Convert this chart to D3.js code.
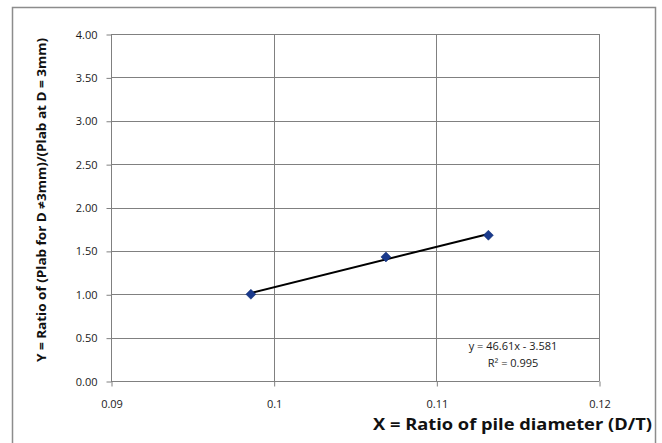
<!DOCTYPE html>
<html><head><meta charset="utf-8">
<script src="https://cdn.jsdelivr.net/npm/d3@7"></script>
<style>html,body{margin:0;padding:0;background:#fff;}svg{display:block;}</style>
</head><body>
<svg id="c" width="662" height="443"></svg>
<script>
const xValues = [0.0986, 0.1069, 0.1132];
const yValues = [1.00, 1.43, 1.68];
const xTicks = [0.09, 0.10, 0.11, 0.12];
const xTickLabels = ["0.09", "0.1", "0.11", "0.12"];
const yTicks = [0, 0.5, 1, 1.5, 2, 2.5, 3, 3.5, 4];
const slope = 46.61, intercept = -3.581;
const eqLines = ["y = 46.61x - 3.581", "R² = 0.995"];
const xTitle = "X = Ratio of pile diameter (D/T)";
const yTitle = "Y = Ratio of (Plab for D ≠3mm)/(Plab at D = 3mm)";

const svg = d3.select("#c");
const font = "'Open Sans', 'Liberation Sans', sans-serif";
const m = {l:111, r:599, t:34, b:381};
const x = d3.scaleLinear().domain([0.09, 0.12]).range([m.l, m.r]);
const y = d3.scaleLinear().domain([0, 4]).range([m.b, m.t]);

// outer chart border
svg.append("rect").attr("x",12.5).attr("y",7.5).attr("width",643).attr("height",450)
  .attr("fill","#fff").attr("stroke","#8c8c8c").attr("stroke-width",1.5);

// gridlines
const grid = svg.append("g");
grid.selectAll(".hg").data(yTicks).join("line")
  .attr("x1",m.l).attr("x2",m.r).attr("y1",d=>Math.round(y(d))+0.5).attr("y2",d=>Math.round(y(d))+0.5)
  .attr("stroke","#808080").attr("stroke-width",1);
grid.selectAll(".vg").data(xTicks).join("line")
  .attr("y1",m.t).attr("y2",m.b).attr("x1",d=>Math.round(x(d))+0.5).attr("x2",d=>Math.round(x(d))+0.5)
  .attr("stroke","#808080").attr("stroke-width",1);

// axes
const yAxis = svg.append("g").attr("transform",`translate(${m.l+0.5},0.5)`)
  .call(d3.axisLeft(y).tickValues(yTicks).tickFormat(d3.format(".2f")).tickSize(5).tickPadding(9));
const xAxis = svg.append("g").attr("transform",`translate(0.5,${m.b+0.5})`)
  .call(d3.axisBottom(x).tickValues(xTicks).tickFormat((d,i)=>xTickLabels[i]).tickSize(5).tickPadding(14));
[yAxis,xAxis].forEach(a=>{
  a.select(".domain").attr("stroke","#808080");
  a.selectAll(".tick line").attr("stroke","#808080");
  a.selectAll("text").attr("font-family",font).attr("font-size",11).attr("fill","#1a1a1a");
});
xAxis.select(".domain").attr("d",`M${m.l},0H${m.r}`);
yAxis.select(".domain").attr("d",`M0,${m.b}V${m.t}`);

// trendline
const x0 = d3.min(xValues), x1 = d3.max(xValues);
svg.append("line")
  .attr("x1",x(x0)).attr("y1",y(slope*x0+intercept))
  .attr("x2",x(x1)).attr("y2",y(slope*x1+intercept))
  .attr("stroke","#000").attr("stroke-width",2);

// markers
const pts = xValues.map((v,i)=>({x:v,y:yValues[i]}));
svg.selectAll(".pt").data(pts).join("path")
  .attr("transform",d=>`translate(${x(d.x)},${y(d.y)})`)
  .attr("d","M0,-5L5,0L0,5L-5,0Z")
  .attr("fill","#1a3a8c").attr("stroke","#0d2a6e").attr("stroke-width",0.5);

// equation
svg.append("g").selectAll("text").data(eqLines).join("text")
  .attr("x",513).attr("y",(d,i)=>350+i*17).attr("text-anchor","middle")
  .attr("font-family",font).attr("font-size",11).attr("fill","#1a1a1a").text(d=>d);

// titles
svg.append("text").attr("x",652).attr("y",430).attr("text-anchor","end")
  .attr("font-family",font).attr("font-size",16).attr("font-weight","bold").attr("fill","#111")
  .attr("textLength",279).attr("lengthAdjust","spacingAndGlyphs").text(xTitle);
svg.append("text").attr("transform","translate(46,200) rotate(-90)").attr("text-anchor","middle")
  .attr("font-family",font).attr("font-size",12).attr("font-weight","bold").attr("fill","#111")
  .attr("textLength",324).attr("lengthAdjust","spacingAndGlyphs").text(yTitle);
</script>
</body></html>
